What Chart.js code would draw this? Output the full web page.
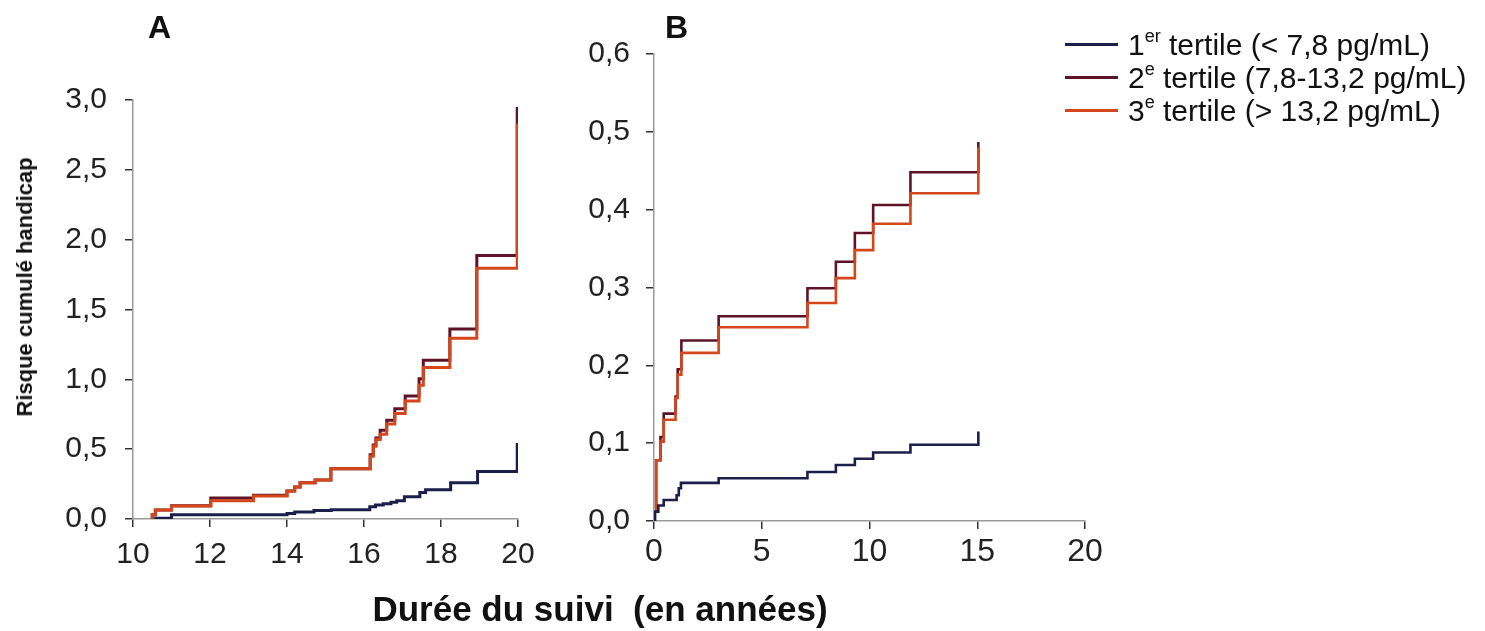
<!DOCTYPE html>
<html lang="fr">
<head>
<meta charset="utf-8">
<title>Risque cumulé handicap</title>
<script src="https://cdn.jsdelivr.net/npm/chart.js@4"></script>
<style>
  html, body { margin: 0; padding: 0; background: #fff; }
  body { width: 1485px; height: 631px; position: relative; overflow: hidden;
         font-family: "Liberation Sans", Arial, sans-serif; color: #111; }
  canvas { position: absolute; top: 0; }
  #chartA { left: 0; }
  #chartB { left: 560px; }
  .panel { position: absolute; font-weight: bold; font-size: 32px; line-height: 32px; top: 11px; }
  #yTitle { position: absolute; left: 25px; top: 287px; font-weight: bold; font-size: 22px;
            white-space: nowrap; transform: translate(-50%, -50%) rotate(-90deg); }
  #xTitle { position: absolute; left: 600px; top: 591px; font-weight: bold; font-size: 35px;
            line-height: 35px; white-space: nowrap; transform: translateX(-50%); }
  #legend { position: absolute; left: 1065px; top: 28px; font-size: 30px; line-height: 33px; z-index: 2; }
  #legend .row { white-space: nowrap; }
  #legend .swatch { display: inline-block; width: 53px; height: 3px; vertical-align: 9px; margin-right: 10px; }
  #legend sup { font-size: 0.6em; line-height: 0; vertical-align: 0.7em; }
</style>
</head>
<body>
<canvas id="chartA" width="560" height="631"></canvas>
<canvas id="chartB" width="560" height="631"></canvas>

<div class="panel" style="left:148px">A</div>
<div class="panel" style="left:665px">B</div>
<div id="yTitle">Risque cumulé handicap</div>
<div id="xTitle">Durée du suivi&nbsp; (en années)</div>

<div id="legend">
  <div class="row"><span class="swatch" style="background:#1c1f4a"></span>1<sup>er</sup> tertile (&lt; 7,8 pg/mL)</div>
  <div class="row"><span class="swatch" style="background:#5e1428"></span>2<sup>e</sup> tertile (7,8-13,2 pg/mL)</div>
  <div class="row"><span class="swatch" style="background:#d4461c"></span>3<sup>e</sup> tertile (&gt; 13,2 pg/mL)</div>
</div>

<script>
// Panel A : années de suivi (10-20) et risque cumulé par tertile
const aT1 = [10.55, 11.0, 14.0, 14.2, 14.7, 15.15, 16.15, 16.3, 16.5, 16.7, 16.85, 17.05, 17.45, 17.6, 18.25, 18.95, 19.98];
const aR1 = [0.005, 0.03, 0.04, 0.05, 0.06, 0.066, 0.088, 0.1, 0.11, 0.12, 0.13, 0.16, 0.19, 0.21, 0.26, 0.34, 0.545];

const aT2 = [10.48, 10.5, 10.58, 11.0, 12.02, 13.13, 14.0, 14.2, 14.34, 14.73, 15.14, 16.16, 16.24, 16.31, 16.42, 16.59, 16.8, 17.07, 17.43, 17.54, 18.23, 18.93, 19.98];
const aR2 = [0, 0.03, 0.064, 0.095, 0.15, 0.17, 0.2, 0.23, 0.26, 0.28, 0.36, 0.46, 0.53, 0.58, 0.636, 0.707, 0.79, 0.88, 1.005, 1.136, 1.36, 1.886, 2.95];

const aT3 = [10.48, 10.5, 10.58, 11.0, 12.02, 13.13, 14.0, 14.2, 14.34, 14.73, 15.14, 16.16, 16.24, 16.31, 16.42, 16.59, 16.8, 17.07, 17.43, 17.54, 18.23, 18.93, 19.98];
const aR3 = [0, 0.03, 0.064, 0.093, 0.13, 0.165, 0.2, 0.23, 0.26, 0.28, 0.36, 0.45, 0.52, 0.57, 0.607, 0.68, 0.755, 0.845, 0.957, 1.085, 1.295, 1.795, 2.83];

// Panel B : années de suivi (0-20)
const bT1 = [0, 0.05, 0.2, 0.45, 1.05, 1.15, 1.25, 3.0, 7.12, 8.44, 9.32, 10.17, 11.9, 15.05];
const bR1 = [0, 0.012, 0.02, 0.027, 0.033, 0.042, 0.049, 0.055, 0.063, 0.072, 0.08, 0.088, 0.098, 0.115];

const bT2 = [0.05, 0.1, 0.3, 0.45, 1.0, 1.1, 1.27, 3.0, 7.12, 8.44, 9.32, 10.17, 11.9, 15.05];
const bR2 = [0.015, 0.078, 0.108, 0.138, 0.16, 0.195, 0.232, 0.263, 0.299, 0.333, 0.37, 0.406, 0.448, 0.487];

const bT3 = [0.05, 0.1, 0.3, 0.45, 1.0, 1.1, 1.27, 3.0, 7.12, 8.44, 9.32, 10.17, 11.9, 15.05];
const bR3 = [0.015, 0.078, 0.102, 0.13, 0.158, 0.188, 0.216, 0.249, 0.28, 0.312, 0.348, 0.382, 0.421, 0.48];

// axes
const aXTicks = [10, 12, 14, 16, 18, 20];
const aYTicks = [0, 0.5, 1.0, 1.5, 2.0, 2.5, 3.0];
const bXTicks = [0, 5, 10, 15, 20];
const bYTicks = [0, 0.1, 0.2, 0.3, 0.4, 0.5, 0.6];

const colors = { t1: '#1c1f4a', t2: '#5e1428', t3: '#d4461c' };

Chart.defaults.font.family = '"Liberation Sans", Arial, sans-serif';
Chart.defaults.color = '#222';

const toPoints = (xs, ys) => xs.map((x, i) => ({ x: x, y: ys[i] }));
const comma = (v) => v.toFixed(1).replace('.', ',');

function stepSet(xs, ys, color, width) {
  return {
    data: toPoints(xs, ys),
    borderColor: color,
    borderWidth: width,
    stepped: 'before',
    pointRadius: 0,
    fill: false,
  };
}

function axis(min, max, ticks, size, fmt, pad, fit) {
  return {
    type: 'linear',
    min: min,
    max: max,
    afterBuildTicks: (scale) => { scale.ticks = ticks.map((v) => ({ value: v })); },
    afterFit: fit,
    ticks: { font: { size: size }, color: '#222', padding: pad, callback: fmt },
    grid: { drawOnChartArea: false, drawTicks: true, tickLength: 8, color: '#333', lineWidth: 1.5 },
    border: { color: '#9a9a9a', width: 1.5 },
  };
}

function makeChart(id, sets, xs, ys, pad) {
  return new Chart(document.getElementById(id), {
    type: 'line',
    data: { datasets: sets },
    options: {
      responsive: false,
      animation: false,
      layout: { padding: pad },
      plugins: { legend: { display: false }, tooltip: { enabled: false } },
      scales: { x: xs, y: ys },
    },
  });
}

// dataset 0 is drawn on top
makeChart('chartA', [
  stepSet(aT1, aR1, colors.t1, 3),
  stepSet(aT3, aR3, colors.t3, 3),
  stepSet(aT2, aR2, colors.t2, 3),
],
  axis(10, 20, aXTicks, 30, (v) => v, 10, (s) => { s.height = 60; }),
  axis(0, 3, aYTicks, 30, (v) => comma(v), 18, (s) => { s.width = 100; }),
  { left: 33, right: 42, top: 100, bottom: 52 });

makeChart('chartB', [
  stepSet(bT1, bR1, colors.t1, 2.6),
  stepSet(bT3, bR3, colors.t3, 2.6),
  stepSet(bT2, bR2, colors.t2, 2.6),
],
  axis(0, 20, bXTicks, 32, (v) => v, 4, (s) => { s.height = 60; }),
  axis(0, 0.6, bYTicks, 30, (v) => comma(v), 16, (s) => { s.width = 80; }),
  { left: 14, right: 35, top: 54, bottom: 50 });
</script>
</body>
</html>
